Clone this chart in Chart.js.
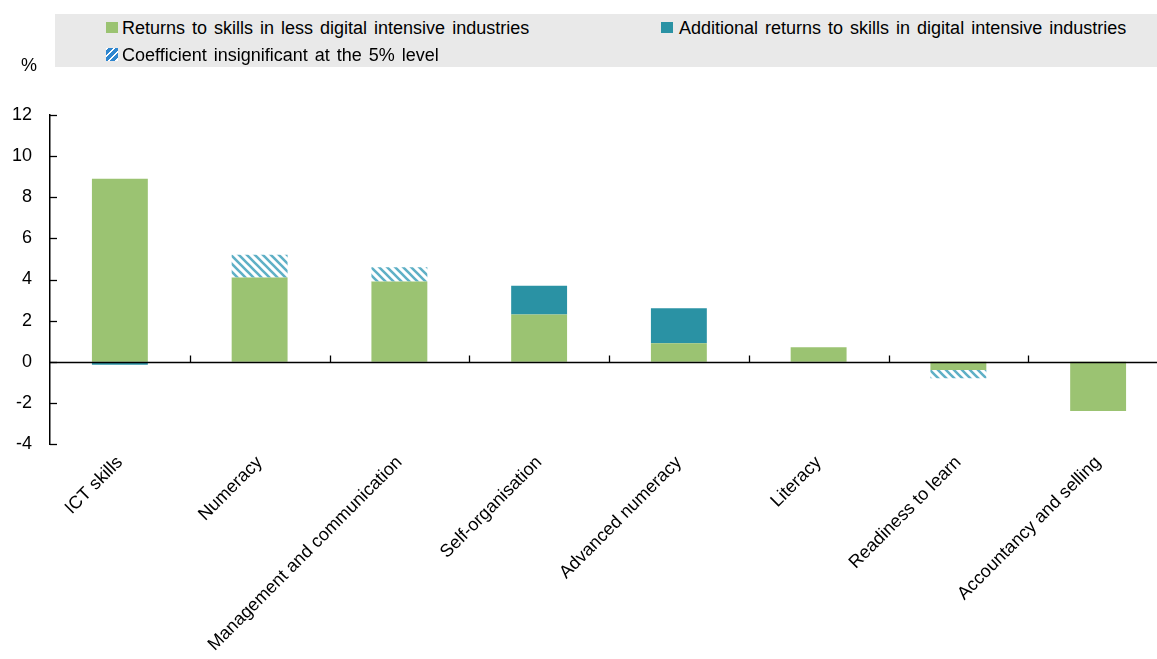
<!DOCTYPE html>
<html>
<head>
<meta charset="utf-8">
<script src="https://cdn.jsdelivr.net/npm/chart.js@4"></script>
<style>
  html, body { margin: 0; padding: 0; background: #fff; overflow: hidden; }
  #wrap { position: relative; width: 1168px; height: 659px; }
  #chart { position: absolute; left: 0; top: 0; }
  .txt { position: absolute; font-family: 'Liberation Sans', Arial, sans-serif; font-size: 18px; line-height: 18px; color: #000; white-space: nowrap; word-spacing: 2px; }
  #legendBox { position: absolute; left: 55px; top: 14px; width: 1120px; height: 53px; background: #e9e9e9; }
  .sw { position: absolute; width: 12px; height: 11px; }
</style>
</head>
<body>
<div id="wrap">
  <canvas id="chart" width="1168" height="659"></canvas>
  <div id="legendBox"></div>
  <div class="sw" style="left:106px;top:22px;background:#9bc372;"></div>
  <div class="txt" style="left:122px;top:19px;">Returns to skills in less digital intensive industries</div>
  <div class="sw" style="left:661px;top:22px;background:#2a92a4;"></div>
  <div class="txt" style="left:679px;top:19px;">Additional returns to skills in digital intensive industries</div>
  <div class="sw" style="left:106px;top:48px;height:13px;background:repeating-linear-gradient(135deg,#ffffff 0 2px,#2f86cf 2px 5px);"></div>
  <div class="txt" style="left:122px;top:46px;">Coefficient insignificant at the 5% level</div>
  <div class="txt" style="left:21px;top:56px;">%</div>
</div>
<script>
const categories = ["ICT skills", "Numeracy", "Management and communication", "Self-organisation", "Advanced numeracy", "Literacy", "Readiness to learn", "Accountancy and selling"];
const lessDigital = [8.9, 4.1, 3.9, 2.3, 0.9, 0.7, -0.4, -2.4];
const additionalDigital = [-0.15, null, null, 1.4, 1.7, null, null, null];
const insignificant = [null, 1.1, 0.7, null, null, null, -0.4, null];
const yTicks = [-4, -2, 0, 2, 4, 6, 8, 10, 12];

function hatchPattern() {
  const c = document.createElement('canvas');
  c.width = 8; c.height = 8;
  const g = c.getContext('2d');
  g.fillStyle = '#ffffff';
  g.fillRect(0, 0, 8, 8);
  g.strokeStyle = '#5fb0c6';
  g.lineWidth = 2.6;
  g.beginPath();
  g.moveTo(-2, -2); g.lineTo(10, 10);
  g.moveTo(-2, 6); g.lineTo(2, 10);
  g.moveTo(6, -2); g.lineTo(10, 2);
  g.stroke();
  return g.createPattern(c, 'repeat');
}

const ctx = document.getElementById('chart').getContext('2d');
Chart.defaults.font.family = "'Liberation Sans', Arial, sans-serif";
Chart.defaults.font.size = 18;
Chart.defaults.color = '#000';

const overlay = {
  id: 'overlay',
  afterDatasetsDraw(chart) {
    const c = chart.ctx, x = chart.scales.x, y = chart.scales.y, a = chart.chartArea;
    c.save();
    c.strokeStyle = '#000';
    const y0 = Math.round(y.getPixelForValue(0)) + 0.5;
    c.lineWidth = 1.6;
    c.beginPath(); c.moveTo(a.left, y0); c.lineTo(a.right, y0); c.stroke();
    c.lineWidth = 1.3;
    yTicks.forEach(v => {
      const py = Math.round(y.getPixelForValue(v)) + 0.5;
      c.beginPath(); c.moveTo(a.left, py); c.lineTo(a.left + 7, py); c.stroke();
    });
    for (let i = 1; i < categories.length; i++) {
      const px = Math.round(x.getPixelForValue(i - 0.5)) + 0.5;
      c.beginPath(); c.moveTo(px, y0); c.lineTo(px, y0 - 7); c.stroke();
    }
    c.restore();
  }
};

new Chart(ctx, {
  type: 'bar',
  data: {
    labels: categories,
    datasets: [
      { label: 'Returns to skills in less digital intensive industries', data: lessDigital, backgroundColor: '#9bc372' },
      { label: 'Additional returns to skills in digital intensive industries', data: additionalDigital, backgroundColor: '#2a92a4' },
      { label: 'Coefficient insignificant at the 5% level', data: insignificant, backgroundColor: hatchPattern() }
    ]
  },
  options: {
    responsive: false,
    animation: false,
    layout: { padding: { top: 115, left: 0, right: 0, bottom: 0 } },
    plugins: { legend: { display: false }, tooltip: { enabled: false } },
    datasets: { bar: { barPercentage: 1, categoryPercentage: 0.4 } },
    scales: {
      x: {
        stacked: true,
        grid: { display: false, drawTicks: false },
        border: { display: false },
        ticks: { minRotation: 45, maxRotation: 45, padding: 8, autoSkip: false, font: { size: 18 } },
        afterFit(axis) { axis.height = 215; }
      },
      y: {
        stacked: true,
        min: -4, max: 12,
        grid: { display: false, drawTicks: false },
        border: { display: true, color: '#000', width: 1.5 },
        ticks: { stepSize: 2, padding: 18, font: { size: 18 } },
        afterFit(axis) { axis.width = 50; }
      }
    }
  },
  plugins: [overlay]
});
</script>
</body>
</html>
